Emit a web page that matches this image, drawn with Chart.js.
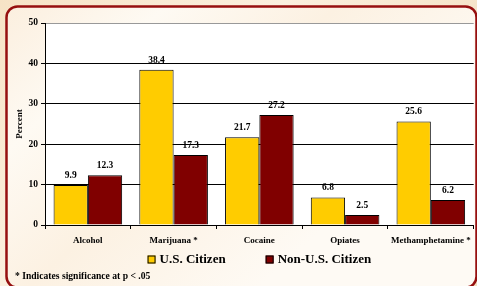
<!DOCTYPE html>
<html>
<head>
<meta charset="utf-8">
<script src="https://cdn.jsdelivr.net/npm/chart.js@4.4.1/dist/chart.umd.min.js"></script>
<style>
  html, body { margin: 0; padding: 0; }
  body { width: 477px; height: 286px; position: relative; overflow: hidden; }
  #wrap { position: absolute; left: 0; top: 0; width: 477px; height: 286px; }
  #note {
    position: absolute; left: 15px; top: 270px;
    font: bold 9.6px "Liberation Serif", "Times New Roman", serif; color: #000;
  }
</style>
</head>
<body>
<div id="wrap"><canvas id="chart" width="477" height="286"></canvas></div>
<div id="note">* Indicates significance at p &lt; .05</div>
<script>
const categories = ["Alcohol", "Marijuana *", "Cocaine", "Opiates", "Methamphetamine *"]
const usCitizen = [9.9, 38.4, 21.7, 6.8, 25.6]
const nonUsCitizen = [12.3, 17.3, 27.2, 2.5, 6.2]
const yTicks = [0, 10, 20, 30, 40, 50]

const serif = "'Liberation Serif', 'Times New Roman', serif"

// frame + cream background behind the chart, value labels, legend row
const decor = {
  id: "decor",
  beforeDraw(chart) {
    const { ctx, chartArea: a } = chart
    ctx.save()
    const g = ctx.createLinearGradient(0, 0, 300, 286)
    g.addColorStop(0, "#f6e3c6")
    g.addColorStop(0.5, "#fbf0df")
    g.addColorStop(1, "#f3dfc0")
    ctx.fillStyle = g
    ctx.fillRect(0, 0, chart.width, chart.height)

    const inner = ctx.createLinearGradient(0, 0, 260, 286)
    inner.addColorStop(0, "#fbeedd")
    inner.addColorStop(0.3, "#fefaf3")
    inner.addColorStop(0.6, "#fcf1e2")
    inner.addColorStop(1, "#fefaf4")
    ctx.beginPath()
    ctx.roundRect(6.5, 6.5, 470, 281, 11)
    ctx.fillStyle = inner
    ctx.fill()
    ctx.lineWidth = 2.5
    ctx.strokeStyle = "#960f0f"
    ctx.stroke()

    ctx.fillStyle = "#fff"
    ctx.fillRect(a.left, a.top, a.right - a.left, a.bottom - a.top)
    ctx.restore()
  },
  afterDatasetsDraw(chart) {
    const { ctx } = chart
    ctx.save()
    ctx.font = "bold 9.5px " + serif
    ctx.fillStyle = "#000"
    ctx.textAlign = "center"
    ctx.textBaseline = "bottom"
    chart.data.datasets.forEach((ds, i) => {
      chart.getDatasetMeta(i).data.forEach((bar, j) => {
        ctx.fillText(ds.data[j].toFixed(1), bar.x, bar.y - 5)
      })
    })
    ctx.restore()
  },
  afterDraw(chart) {
    const { ctx, chartArea: a } = chart
    const box = 8, gap = 4, spacing = 40
    ctx.save()
    ctx.font = "bold 13px " + serif
    const items = chart.data.datasets.map(ds => ({ ds, w: ctx.measureText(ds.label).width }))
    const total = items.reduce((s, it) => s + box + gap + it.w, 0) + spacing * (items.length - 1)
    let x = (a.left + a.right) / 2 - total / 2
    const cy = a.bottom + 34.5
    ctx.textBaseline = "middle"
    items.forEach(it => {
      ctx.fillStyle = it.ds.backgroundColor
      ctx.fillRect(x, cy - box / 2, box, box)
      ctx.strokeStyle = "#000"
      ctx.lineWidth = 1
      ctx.strokeRect(x + 0.5, cy - box / 2 + 0.5, box - 1, box - 1)
      ctx.fillStyle = "#000"
      ctx.fillText(it.ds.label, x + box + gap, cy)
      x += box + gap + it.w + spacing
    })
    ctx.restore()
  }
}

new Chart(document.getElementById("chart"), {
  type: "bar",
  data: {
    labels: categories,
    datasets: [
      { label: "U.S. Citizen", data: usCitizen, backgroundColor: "#ffcc00", borderColor: "#000", borderWidth: 1 },
      { label: "Non-U.S. Citizen", data: nonUsCitizen, backgroundColor: "#800000", borderColor: "#000", borderWidth: 1 },
    ],
  },
  options: {
    responsive: false,
    animation: false,
    layout: { padding: { left: 14, right: 3, top: 23, bottom: 41 } },
    datasets: { bar: { categoryPercentage: 0.8, barPercentage: 1 } },
    plugins: {
      tooltip: { enabled: false },
      legend: { display: false },
    },
    scales: {
      x: {
        afterFit: s => { s.height = 20 },
        grid: {
          offset: true,
          color: ctx => ctx.index === categories.length ? "#999" : "transparent",
          tickColor: "#000", tickLength: 4,
        },
        border: { color: "#000" },
        ticks: { color: "#000", padding: 6, font: { family: serif, size: 9, weight: "bold" } },
      },
      y: {
        min: 0, max: 50,
        afterBuildTicks: s => { s.ticks = yTicks.map(v => ({ value: v })) },
        afterFit: s => { s.width = 31 },
        grid: {
          color: ctx => ctx.tick && ctx.tick.value === 50 ? "#999" : "#000",
          tickColor: "#000", tickLength: 4,
        },
        border: { color: "#000" },
        ticks: { color: "#000", padding: 3, font: { family: serif, size: 9.5, weight: "bold" } },
        title: { display: true, text: "Percent", color: "#000", padding: 0, font: { family: serif, size: 9, weight: "bold" } },
      },
    },
  },
  plugins: [decor],
})
</script>
</body>
</html>
